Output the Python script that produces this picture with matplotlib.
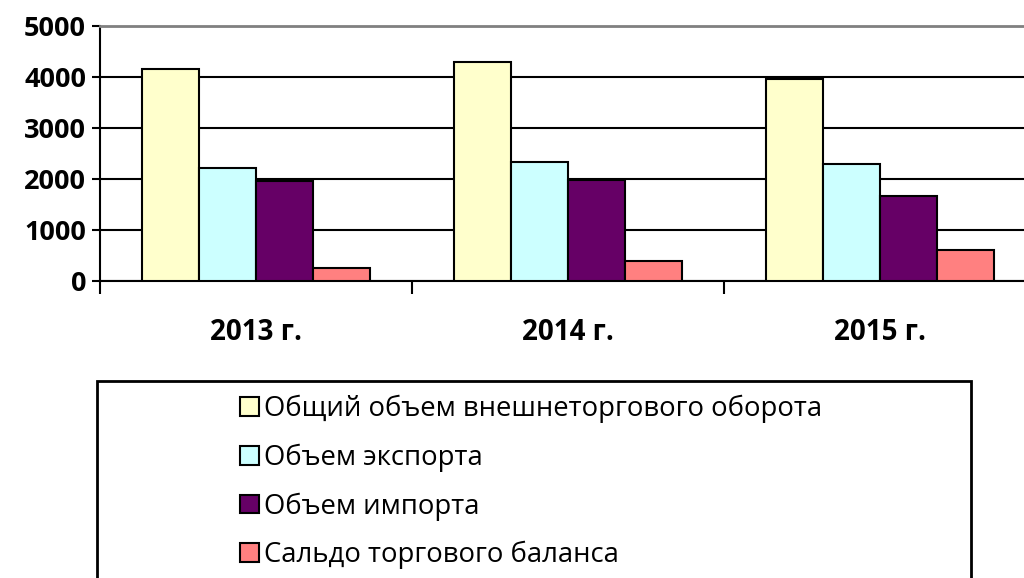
import numpy as np
import matplotlib
matplotlib.use("Agg")
import matplotlib.pyplot as plt
from matplotlib.patches import Rectangle

plt.rcParams['font.family'] = ['Open Sans', 'DejaVu Sans']

# data
years = ['2013 г.', '2014 г.', '2015 г.']
total = [4160, 4300, 3960]
export = [2210, 2340, 2290]
imports = [1960, 1975, 1670]
balance = [255, 390, 605]
names = ['Общий объем внешнеторгового оборота', 'Объем экспорта',
         'Объем импорта', 'Сальдо торгового баланса']
colors = ['#FFFFCC', '#CCFFFF', '#660066', '#FF8080']

W, H = 1024, 578
fig = plt.figure(figsize=(W / 100, H / 100), dpi=100)
# plot area runs past the right edge of the picture, like the original
ax = fig.add_axes([100 / W, (H - 281) / H, 936 / W, 255 / H])

x = np.arange(len(years))
w = 0.1827
for i, (vals, c, n) in enumerate(zip([total, export, imports, balance], colors, names)):
    ax.bar(x + (i - 1.5) * w, vals, w, color=c, edgecolor='black',
           linewidth=1.5, label=n, zorder=3)

ax.set_xlim(-0.5, 2.5)
ax.set_ylim(0, 5000)
ax.set_yticks(range(0, 5001, 1000))
ax.yaxis.grid(True, color='black', linewidth=1.5, zorder=0)
ax.tick_params(axis='y', length=6, width=1.5, labelsize=19.5, pad=4)
for t in ax.get_yticklabels():
    t.set_fontweight('bold')

ax.set_xticks(x)
ax.set_xticklabels(years, fontsize=20, fontweight='bold')
ax.tick_params(axis='x', which='major', length=0, pad=27)
ax.set_xticks([-0.5, 0.5, 1.5, 2.5], minor=True)
ax.tick_params(axis='x', which='minor', length=9, width=1.5)

ax.spines['left'].set_linewidth(1.5)
ax.spines['bottom'].set_linewidth(1.5)
ax.spines['top'].set_color('#808080')
ax.spines['top'].set_linewidth(2)
ax.spines['right'].set_visible(False)

# legend box
fig.patches.append(Rectangle((97 / W, -0.05), (971 - 97) / W, (H - 381) / H + 0.05,
                             transform=fig.transFigure, fill=False,
                             edgecolor='black', linewidth=2))
handles, labels = ax.get_legend_handles_labels()
leg = fig.legend(handles, labels, loc='upper left',
                 bbox_to_anchor=(229 / W, (H - 384) / H),
                 frameon=False, fontsize=19.8, handlelength=0.68, handleheight=0.68,
                 handletextpad=0.2, labelspacing=0.74, borderaxespad=0)

fig.savefig('out.png', dpi=100)
